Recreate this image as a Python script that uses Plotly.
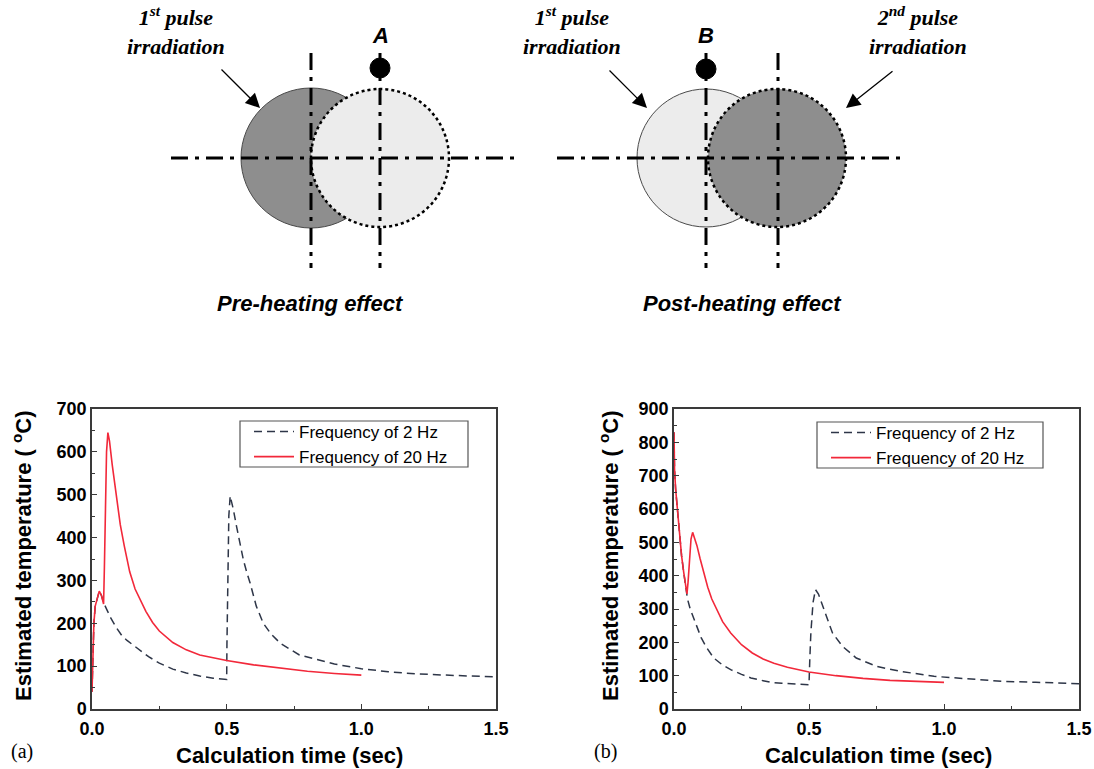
import plotly.graph_objects as go

# ---------------- data ----------------
# (a) pre-heating case
t_a_2hz = [0, 0.003, 0.007, 0.012, 0.02, 0.027, 0.035, 0.043, 0.055, 0.07, 0.09, 0.11, 0.13,
           0.155, 0.18, 0.21, 0.25, 0.3, 0.35, 0.4, 0.45, 0.5, 0.501, 0.504, 0.508, 0.513,
           0.525, 0.537, 0.55, 0.562, 0.575, 0.587, 0.61, 0.636, 0.665, 0.7, 0.77, 0.85,
           0.9, 1.0, 1.1, 1.2, 1.3, 1.4, 1.5]
temp_a_2hz = [40, 140, 200, 240, 262, 275, 265, 248, 232, 212, 190, 172, 160,
              148, 135, 122, 107, 93, 84, 77, 72, 69, 150, 330, 450, 497,
              465, 425, 385, 348, 318, 294, 240, 200, 175, 153, 126, 112,
              105, 94, 87, 82, 79, 77, 75]

t_a_20hz = [0, 0.003, 0.007, 0.012, 0.02, 0.027, 0.035, 0.043, 0.046, 0.05, 0.054, 0.059,
            0.065, 0.075, 0.09, 0.105, 0.12, 0.14, 0.16, 0.18, 0.2, 0.225, 0.25, 0.3, 0.35,
            0.4, 0.5, 0.6, 0.7, 0.8, 0.9, 1.0]
temp_a_20hz = [40, 140, 200, 240, 262, 275, 265, 245, 330, 500, 600, 645,
               625, 570, 500, 430, 380, 320, 280, 252, 228, 202, 182, 155, 138,
               126, 113, 103, 95, 88, 83, 79]

# (b) post-heating case
t_b_2hz = [0, 0.002, 0.006, 0.012, 0.02, 0.028, 0.036, 0.043, 0.05, 0.06, 0.07, 0.084,
           0.1, 0.12, 0.147, 0.18, 0.21, 0.25, 0.285, 0.33, 0.36, 0.4, 0.436, 0.5,
           0.503, 0.507, 0.515, 0.524, 0.535, 0.555, 0.587, 0.624, 0.675, 0.75, 0.838,
           0.963, 1.09, 1.215, 1.34, 1.5]
temp_b_2hz = [830, 720, 660, 605, 530, 460, 410, 370, 330, 300, 280, 250,
              215, 185, 153, 132, 118, 104, 93, 85, 80, 77, 75, 73,
              150, 230, 320, 358, 345, 298, 228, 188, 153, 128, 113,
              98, 90, 83, 80, 76]

t_b_20hz = [0, 0.002, 0.006, 0.012, 0.02, 0.028, 0.036, 0.043, 0.048, 0.052, 0.057, 0.063,
            0.069, 0.076, 0.085, 0.097, 0.11, 0.125, 0.14, 0.16, 0.18, 0.21, 0.25, 0.29,
            0.33, 0.37, 0.42, 0.5, 0.6, 0.7, 0.8, 0.9, 1.0]
temp_b_20hz = [830, 720, 660, 605, 530, 460, 410, 370, 345, 380, 455, 510,
               530, 515, 490, 450, 410, 365, 330, 295, 262, 228, 193, 168,
               150, 137, 125, 111, 100, 92, 86, 83, 80]

series_names = ["Frequency of 2 Hz", "Frequency of 20 Hz"]
x_ticks = [0.0, 0.5, 1.0, 1.5]

# ---------------- figure ----------------
W, H = 1094, 769


def px(x):
    return x / W


def py(y):
    return 1 - y / H


DASH_COLOR = "#2e3648"
RED = "#f2283a"
AXIS_COLOR = "#3a3a3a"
SANS = "Liberation Sans, Arial, sans-serif"
SERIF = "Liberation Serif, Times New Roman, serif"

fig = go.Figure()

panels = [
    ("x", "y", "legend", t_a_2hz, temp_a_2hz, t_a_20hz, temp_a_20hz),
    ("x2", "y2", "legend2", t_b_2hz, temp_b_2hz, t_b_20hz, temp_b_20hz),
]
for xa, ya, lg, t2, v2, t20, v20 in panels:
    fig.add_trace(go.Scatter(x=t2, y=v2, mode="lines", name=series_names[0],
                             line=dict(color=DASH_COLOR, width=1.5, dash="8px,5px"),
                             xaxis=xa, yaxis=ya, legend=lg))
    fig.add_trace(go.Scatter(x=t20, y=v20, mode="lines", name=series_names[1],
                             line=dict(color=RED, width=1.6),
                             xaxis=xa, yaxis=ya, legend=lg))

tick_font = dict(family=SANS, size=18, color="black", weight="bold")


def xaxis_cfg(domain):
    return dict(domain=domain, range=[0, 1.5], tickvals=x_ticks, tickformat=".1f",
                ticks="inside", ticklen=5, tickwidth=1.2, tickcolor=AXIS_COLOR,
                minor=dict(ticks="inside", ticklen=3, dtick=0.25, tickcolor=AXIS_COLOR),
                showline=True, linecolor=AXIS_COLOR, linewidth=1.5, mirror=True,
                showgrid=False, zeroline=False, tickfont=tick_font, automargin=False,
                ticklabelstandoff=3)


def yaxis_cfg(domain, top, anchor):
    return dict(domain=domain, range=[0, top], dtick=100, anchor=anchor,
                ticks="inside", ticklen=5, tickwidth=1.2, tickcolor=AXIS_COLOR,
                minor=dict(ticks="inside", ticklen=3, dtick=50, tickcolor=AXIS_COLOR),
                showline=True, linecolor=AXIS_COLOR, linewidth=1.5, mirror=True,
                showgrid=False, zeroline=False, tickfont=tick_font, automargin=False)


ydom = [py(709), py(409)]
legend_common = dict(bgcolor="rgba(0,0,0,0)", borderwidth=0,
                     font=dict(family=SANS, size=17, color="black"),
                     xanchor="left", yanchor="top", tracegroupgap=0, itemwidth=40)

fig.update_layout(
    width=W, height=H, margin=dict(l=0, r=0, t=0, b=0),
    paper_bgcolor="white", plot_bgcolor="white",
    xaxis=dict(xaxis_cfg([px(92), px(496)]), anchor="y"),
    yaxis=yaxis_cfg(ydom, 700, "x"),
    xaxis2=dict(xaxis_cfg([px(674), px(1079)]), anchor="y2"),
    yaxis2=yaxis_cfg(ydom, 900, "x2"),
    legend=dict(legend_common, x=px(249), y=py(414)),
    legend2=dict(legend_common, x=px(826), y=py(415)),
)

annotations = []


def text(x, y, s, size, family=SANS, **kw):
    annotations.append(dict(x=px(x), y=py(y), xref="paper", yref="paper", text=s,
                            showarrow=False, font=dict(family=family, size=size, color="black"),
                            xanchor="center", yanchor="middle", **kw))


# axis titles and panel tags
ytitle = "<b>Estimated temperature ( <sup>o</sup>C)</b>"
xtitle = "<b>Calculation time (sec)</b>"
text(22, 556, ytitle, 22, textangle=-90)
text(609, 556, ytitle, 22, textangle=-90)
text(289, 755, xtitle, 22)
text(878, 755, xtitle, 22)
text(22, 751, "(a)", 20, family=SERIF)
text(605, 751, "(b)", 20, family=SERIF)

# schematic labels
text(176, 31, "<b><i>1<sup>st</sup> pulse<br>irradiation</i></b>", 22, family=SERIF)
text(572, 31, "<b><i>1<sup>st</sup> pulse<br>irradiation</i></b>", 22, family=SERIF)
text(918, 31, "<b><i>2<sup>nd</sup> pulse<br>irradiation</i></b>", 22, family=SERIF)
text(380, 36, "<b><i>A</i></b>", 22)
text(706, 35, "<b><i>B</i></b>", 22)
text(310, 303, "<b><i>Pre-heating effect</i></b>", 22)
text(742, 303, "<b><i>Post-heating effect</i></b>", 22)

# arrows pointing at the pulse spots
for tip, tail in [((260, 108), (220, 68)), ((647, 108), (608, 69)), ((846, 108), (894, 70))]:
    annotations.append(dict(x=px(tip[0]), y=py(tip[1]), xref="paper", yref="paper",
                            ax=tail[0] - tip[0], ay=tail[1] - tip[1], text="",
                            showarrow=True, arrowhead=2, arrowsize=2.2, arrowwidth=1.3,
                            arrowcolor="black"))

shapes = []
DARK_FILL = "#8e8e8e"
LIGHT_FILL = "#ececec"

# legend frames
for x0, y0, x1, y1 in [(240, 421, 468, 467), (817, 422, 1043, 468)]:
    shapes.append(dict(type="rect", xref="paper", yref="paper",
                       x0=px(x0), x1=px(x1), y0=py(y1), y1=py(y0),
                       line=dict(color="#555", width=1.2), fillcolor="rgba(0,0,0,0)",
                       layer="above"))


def circle(cx, cy, r, fill, line):
    shapes.append(dict(type="circle", xref="paper", yref="paper",
                       x0=px(cx - r), x1=px(cx + r), y0=py(cy + r), y1=py(cy - r),
                       fillcolor=fill, line=line, layer="above"))


def dashdot(x0, y0, x1, y1):
    shapes.append(dict(type="line", xref="paper", yref="paper",
                       x0=px(x0), y0=py(y0), x1=px(x1), y1=py(y1),
                       line=dict(color="black", width=3, dash="17px,7px,4px,7px"),
                       layer="above"))


solid_edge = dict(color="#4a4a4a", width=1)
dotted_edge = dict(color="black", width=2.5, dash="dot")

# pre-heating schematic
circle(311, 158, 70, DARK_FILL, solid_edge)
circle(380, 158, 69, LIGHT_FILL, dotted_edge)
dashdot(171, 158, 514, 158)
dashdot(311, 53, 311, 268)
dashdot(380, 53, 380, 268)
circle(380, 68, 10, "black", dict(color="black", width=1))

# post-heating schematic
circle(706, 158, 69, LIGHT_FILL, solid_edge)
circle(777, 158, 69, DARK_FILL, dotted_edge)
dashdot(557, 158, 900, 158)
dashdot(706, 53, 706, 268)
dashdot(778, 53, 778, 268)
circle(706, 69, 10, "black", dict(color="black", width=1))

fig.update_layout(annotations=annotations, shapes=shapes)

fig.write_html("out.html")
